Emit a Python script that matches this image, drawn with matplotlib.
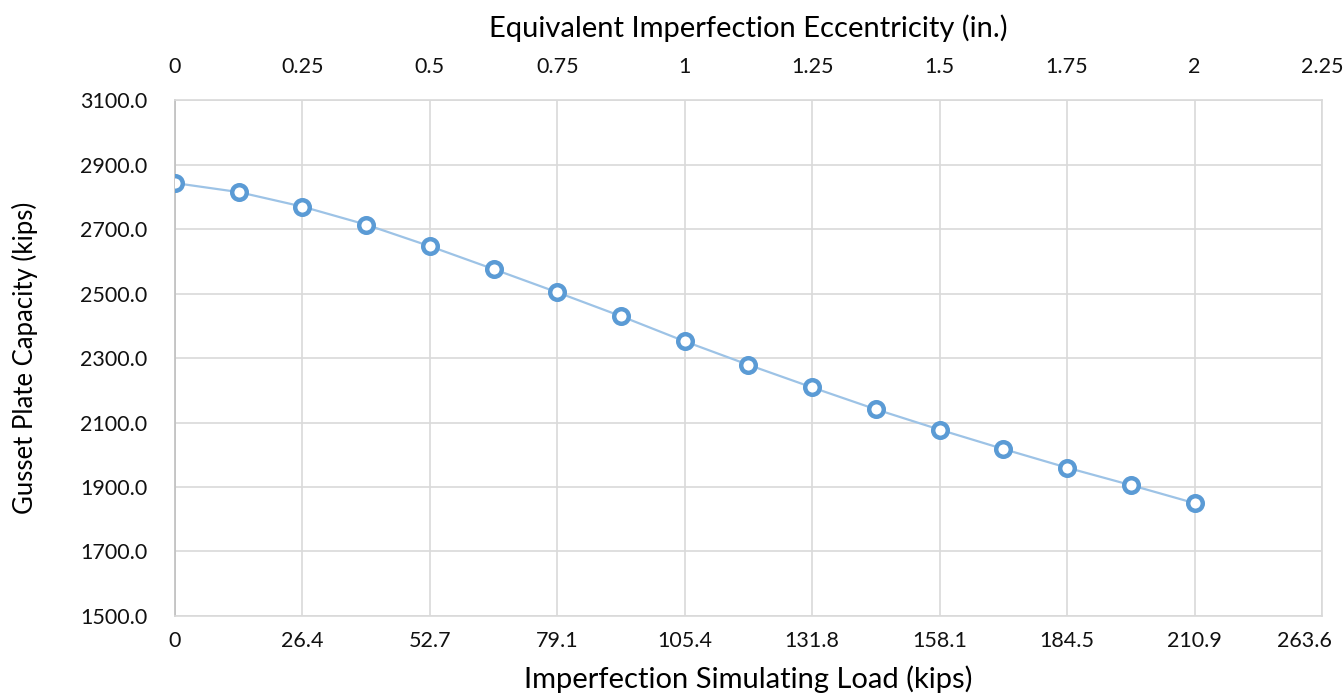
import numpy as np
import matplotlib
matplotlib.use('Agg')
import matplotlib.pyplot as plt
import matplotlib.transforms as mtransforms

plt.rcParams['font.family'] = ['Lato', 'DejaVu Sans']

# data
eccentricity = [0, 0.125, 0.25, 0.375, 0.5, 0.625, 0.75, 0.875, 1.0,
                1.125, 1.25, 1.375, 1.5, 1.625, 1.75, 1.875, 2.0]
capacity = [2843, 2815, 2770, 2714, 2647, 2576, 2504, 2430, 2352,
            2279, 2209, 2141, 2078, 2018, 1960, 1906, 1850]

ecc_ticks = [0, 0.25, 0.5, 0.75, 1.0, 1.25, 1.5, 1.75, 2.0, 2.25]
ecc_labels = ['0', '0.25', '0.5', '0.75', '1', '1.25', '1.5', '1.75', '2', '2.25']
load_labels = ['0', '26.4', '52.7', '79.1', '105.4', '131.8', '158.1', '184.5', '210.9', '263.6']
y_ticks = [1500, 1700, 1900, 2100, 2300, 2500, 2700, 2900, 3100]

fig = plt.figure(figsize=(13.44, 6.96), dpi=100)
ax = fig.add_axes([0.1302, 0.115, 0.8534, 0.741])

grid_col = '#D9D9D9'
ax.plot(eccentricity, capacity, color='#9DC3E6', linewidth=1.6, zorder=3)
ax.plot(eccentricity, capacity, linestyle='none', marker='o', markersize=10.5,
        markerfacecolor='white', markeredgecolor='#5B9BD5', markeredgewidth=3.2, zorder=4)

ax.set_xlim(0, 2.25)
ax.set_ylim(1500, 3100)
ax.set_yticks(y_ticks)
ax.set_yticklabels([f'{v:.1f}' for v in y_ticks])
ax.set_xticks(ecc_ticks)
ax.set_xticklabels(load_labels)
ax.grid(True, color=grid_col, linewidth=1.2)
ax.set_axisbelow(True)
for s in ax.spines.values():
    s.set_color(grid_col)
    s.set_linewidth(1.2)
ax.spines['left'].set_color('#BFBFBF')
ax.tick_params(length=0, labelsize=15.5, colors='#111111')
ax.tick_params(axis='x', pad=11)
ax.tick_params(axis='y', pad=20)

# last bottom label is pulled inside the figure, like excel does
last = ax.get_xticklabels()[-1]
last.set_ha('right')
last.set_transform(last.get_transform() + mtransforms.ScaledTranslation(0.1, 0, fig.dpi_scale_trans))

ax.set_xlabel('Imperfection Simulating Load (kips)', fontsize=21)
ax.xaxis.set_label_coords(0.5, -0.095)
ax.set_ylabel('Gusset Plate Capacity (kips)', fontsize=18.5, va='center')
ax.yaxis.set_label_coords(-0.131, 0.5)

top = ax.twiny()
top.set_xlim(ax.get_xlim())
top.set_xticks(ecc_ticks)
top.set_xticklabels(ecc_labels)
top.tick_params(length=0, labelsize=15.5, pad=17, colors='#111111')
for s in top.spines.values():
    s.set_visible(False)
top.set_xlabel('Equivalent Imperfection Eccentricity (in.)', fontsize=21, labelpad=14)

fig.savefig('out.png', dpi=100, facecolor='white')
